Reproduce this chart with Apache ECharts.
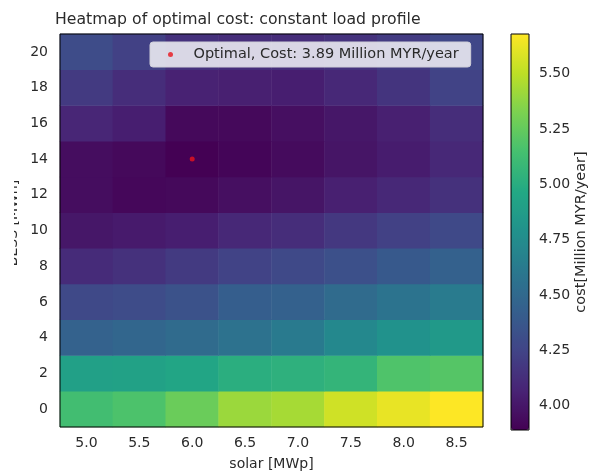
<!DOCTYPE html>
<html>
<head>
<meta charset="utf-8">
<script src="https://cdn.jsdelivr.net/npm/echarts@6/dist/echarts.min.js"></script>
<style>
  html, body { margin: 0; padding: 0; background: #fff; }
  #chart { width: 592px; height: 476px; }
</style>
</head>
<body>
<div id="chart"></div>
<script>
// solar capacity (x) and BESS capacity (y) grid
const solarValues = ['5.0', '5.5', '6.0', '6.5', '7.0', '7.5', '8.0', '8.5'];
const bessValues = ['0', '2', '4', '6', '8', '10', '12', '14', '16', '18', '20'];

// cost in Million MYR/year, one row per BESS value (bottom -> top)
const costBess0 = [5.13, 5.17, 5.27, 5.41, 5.44, 5.55, 5.62, 5.68];
const costBess2 = [4.90, 4.91, 4.94, 5.01, 5.03, 5.06, 5.18, 5.20];
const costBess4 = [4.45, 4.48, 4.51, 4.56, 4.62, 4.72, 4.79, 4.85];
const costBess6 = [4.28, 4.30, 4.34, 4.42, 4.44, 4.51, 4.57, 4.63];
const costBess8 = [4.11, 4.14, 4.19, 4.24, 4.28, 4.33, 4.39, 4.44];
const costBess10 = [4.00, 4.02, 4.04, 4.09, 4.12, 4.18, 4.23, 4.28];
const costBess12 = [3.95, 3.92, 3.93, 3.96, 3.99, 4.05, 4.09, 4.14];
const costBess14 = [3.95, 3.93, 3.89, 3.91, 3.94, 3.99, 4.03, 4.09];
const costBess16 = [4.08, 4.04, 3.93, 3.93, 3.96, 4.00, 4.05, 4.12];
const costBess18 = [4.19, 4.12, 4.06, 4.05, 4.04, 4.09, 4.16, 4.24];
const costBess20 = [4.30, 4.23, 4.14, 4.12, 4.12, 4.15, 4.20, 4.27];
const costRows = [costBess0, costBess2, costBess4, costBess6, costBess8, costBess10,
                  costBess12, costBess14, costBess16, costBess18, costBess20];

// optimum point
const optimalSolar = '6.0';
const optimalBess = '14';
const optimalCost = 3.89;

// colorbar
const costMin = 3.89;
const costMax = 5.68;
const colorbarTicks = [4.00, 4.25, 4.50, 4.75, 5.00, 5.25, 5.50];

const viridis = ['#440154', '#482475', '#414487', '#355f8d', '#2a788e', '#21918c',
                 '#22a884', '#44bf70', '#7ad151', '#bddf26', '#fde725'];

const heatData = [];
costRows.forEach((row, yi) => {
    row.forEach((v, xi) => heatData.push([xi, yi, v]));
});

const font = 'DejaVu Sans';
const textColor = '#2a2a2a';
const tickFont = 14;
const legendName = 'Optimal, Cost: ' + optimalCost.toFixed(2) + ' Million MYR/year';

const chart = echarts.init(document.getElementById('chart'));

chart.setOption({
    animation: false,
    textStyle: { fontFamily: font },
    title: {
        text: 'Heatmap of optimal cost: constant load profile',
        left: 55,
        top: 12,
        padding: 0,
        textStyle: { fontFamily: font, fontSize: 15.7, fontWeight: 'normal', color: textColor }
    },
    legend: {
        data: [legendName],
        left: 150,
        top: 42,
        icon: 'circle',
        itemWidth: 32,
        itemHeight: 5,
        padding: [5, 12, 5, 18],
        backgroundColor: 'rgba(238,238,244,0.88)',
        borderColor: '#cfcfd8',
        borderWidth: 1,
        borderRadius: 3,
        textStyle: { fontFamily: font, fontSize: 14.5, color: textColor, padding: [0, 0, 0, 2] }
    },
    graphic: [
        {
            type: 'text',
            x: 13,
            y: 223,
            rotation: Math.PI / 2,
            z: 10,
            style: {
                text: 'BESS [MWh]',
                font: '14px "DejaVu Sans"',
                fill: textColor,
                align: 'center',
                verticalAlign: 'middle'
            }
        },
        {
            // the reference crops the left edge of the y label
            type: 'rect',
            shape: { x: 0, y: 150, width: 14, height: 160 },
            z: 11,
            style: { fill: '#fff' }
        }
    ],
    grid: [
        { left: 60, top: 34, width: 423, height: 396, show: true, z: 5,
          backgroundColor: 'transparent', borderColor: '#000', borderWidth: 1 },
        { left: 511, top: 34, width: 18, height: 396, show: true, z: 5,
          backgroundColor: 'transparent', borderColor: '#000', borderWidth: 1 }
    ],
    xAxis: [
        {
            type: 'category',
            gridIndex: 0,
            data: solarValues,
            name: 'solar [MWp]',
            nameLocation: 'middle',
            nameGap: 30,
            nameTextStyle: { fontFamily: font, fontSize: tickFont, color: textColor },
            axisLine: { show: false },
            axisTick: { alignWithLabel: true, length: 4, lineStyle: { color: '#000' } },
            axisLabel: { fontFamily: font, fontSize: tickFont, color: textColor, margin: 9 },
            splitLine: { show: false }
        },
        { type: 'value', gridIndex: 1, show: false, min: 0, max: 1 }
    ],
    yAxis: [
        {
            type: 'category',
            gridIndex: 0,
            data: bessValues,
            axisLine: { show: false },
            axisTick: { alignWithLabel: true, length: 4, lineStyle: { color: '#000' } },
            axisLabel: { fontFamily: font, fontSize: tickFont, color: textColor, margin: 12 },
            splitLine: { show: false }
        },
        {
            type: 'value',
            gridIndex: 1,
            position: 'right',
            min: costMin,
            max: costMax,
            name: 'cost[Million MYR/year]',
            nameLocation: 'middle',
            nameRotate: 90,
            nameGap: 41,
            nameTextStyle: { fontFamily: font, fontSize: 14.5, color: textColor },
            axisLine: { show: false },
            axisTick: { show: true, length: 4, customValues: colorbarTicks, lineStyle: { color: '#000' } },
            axisLabel: {
                fontFamily: font, fontSize: tickFont, color: textColor, margin: 10,
                customValues: colorbarTicks,
                formatter: v => v.toFixed(2)
            },
            splitLine: { show: false }
        }
    ],
    visualMap: {
        type: 'continuous',
        seriesIndex: 0,
        min: costMin,
        max: costMax,
        calculable: false,
        hoverLink: false,
        left: 511,
        top: 34,
        padding: 0,
        itemWidth: 18,
        itemHeight: 396,
        text: ['', ''],
        showLabel: false,
        inRange: { color: viridis }
    },
    series: [
        {
            type: 'heatmap',
            xAxisIndex: 0,
            yAxisIndex: 0,
            data: heatData,
            itemStyle: { borderWidth: 0 },
            emphasis: { disabled: true }
        },
        {
            name: legendName,
            type: 'scatter',
            xAxisIndex: 0,
            yAxisIndex: 0,
            z: 4,
            symbolSize: 5,
            itemStyle: { color: '#e8141c' },
            data: [[optimalSolar, optimalBess]]
        }
    ]
});
</script>
</body>
</html>
